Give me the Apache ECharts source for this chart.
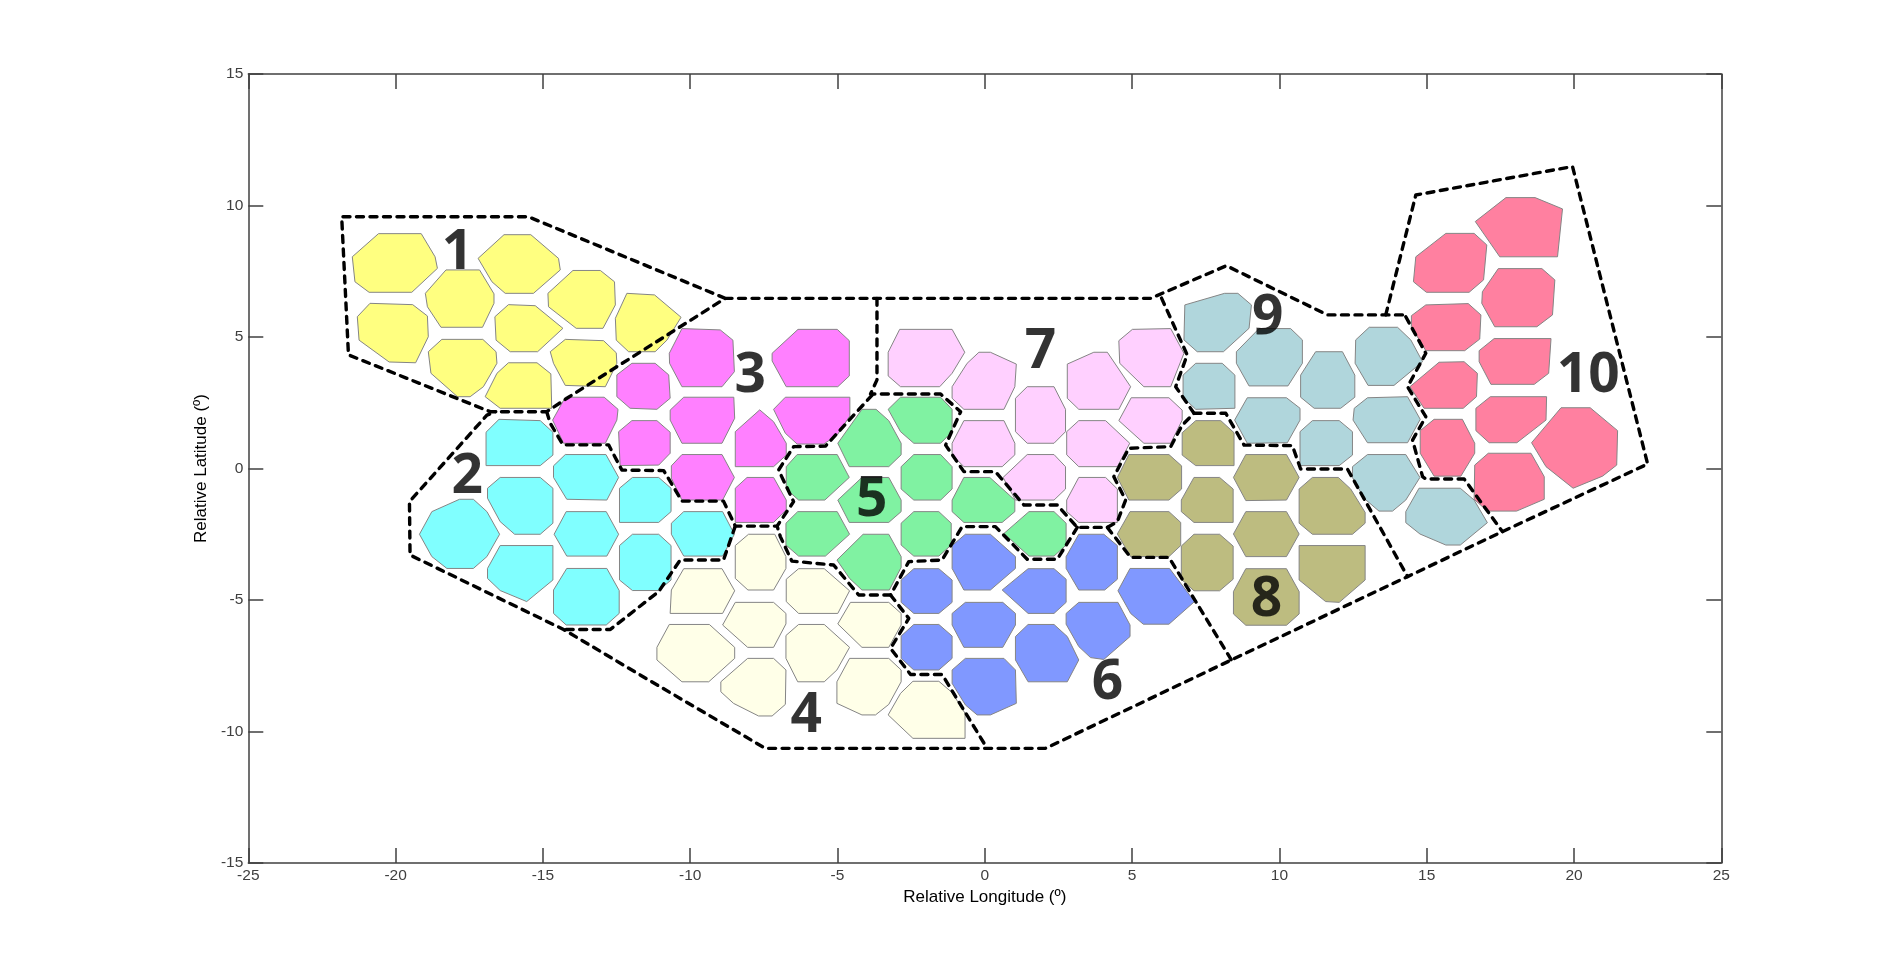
<!DOCTYPE html>
<html>
<head>
<meta charset="utf-8">
<style>html,body{margin:0;padding:0;background:#fff}#main{width:1903px;height:970px}</style>
<script src="https://cdn.jsdelivr.net/npm/echarts@6/dist/echarts.min.js"></script>
</head>
<body>
<div id="main"></div>
<script>
// cell outlines, [longitude, latitude] in degrees
var region1 = [
  [[-20.58,8.93],[-19.13,8.93],[-18.66,8.05],[-18.58,7.61],[-19.45,6.70],[-20.90,6.70],[-21.38,7.10],[-21.47,8.05]],
  [[-18.29,7.55],[-17.15,7.55],[-16.66,6.64],[-16.66,6.28],[-17.05,5.37],[-18.46,5.37],[-18.92,6.15],[-18.99,6.66]],
  [[-16.32,8.89],[-15.41,8.89],[-14.47,7.99],[-14.41,7.55],[-15.32,6.66],[-16.28,6.66],[-16.73,7.10],[-17.20,7.99]],
  [[-13.98,7.53],[-13.05,7.53],[-12.57,7.10],[-12.54,6.22],[-12.96,5.33],[-13.87,5.33],[-14.81,6.15],[-14.83,6.66]],
  [[-12.15,6.66],[-11.21,6.60],[-10.31,5.75],[-10.79,4.88],[-11.19,4.44],[-12.09,4.44],[-12.51,4.88],[-12.54,5.71]],
  [[-20.87,6.28],[-19.42,6.23],[-18.92,5.80],[-18.89,5.01],[-19.32,4.02],[-20.22,4.05],[-21.24,4.88],[-21.30,5.77]],
  [[-16.17,6.23],[-15.26,6.19],[-14.32,5.33],[-15.18,4.44],[-16.11,4.44],[-16.59,4.88],[-16.63,5.77]],
  [[-18.43,4.91],[-17.04,4.91],[-16.59,4.44],[-16.56,4.00],[-17.02,3.11],[-17.47,2.73],[-17.90,2.73],[-18.80,3.62],[-18.89,4.44]],
  [[-14.24,4.91],[-12.94,4.86],[-12.51,4.40],[-12.49,4.00],[-12.88,3.11],[-14.24,3.16],[-14.64,4.00],[-14.75,4.44]],
  [[-16.17,4.02],[-15.20,4.02],[-14.73,3.60],[-14.70,2.29],[-16.45,2.29],[-16.96,2.73],[-16.56,3.62]]
];
var region2 = [
  [[-16.49,1.87],[-15.09,1.82],[-14.66,1.38],[-14.66,0.51],[-15.09,0.11],[-16.93,0.11],[-16.93,1.38]],
  [[-14.24,0.53],[-12.86,0.53],[-12.43,-0.34],[-12.83,-1.20],[-14.19,-1.17],[-14.64,-0.34],[-14.64,0.10]],
  [[-16.45,-0.34],[-15.09,-0.34],[-14.66,-0.75],[-14.66,-2.08],[-15.09,-2.50],[-15.96,-2.50],[-16.45,-2.02],[-16.88,-1.13],[-16.88,-0.75]],
  [[-11.96,-0.34],[-11.07,-0.34],[-10.65,-0.75],[-10.65,-1.64],[-11.07,-2.05],[-12.40,-2.05],[-12.40,-0.75]],
  [[-17.83,-1.17],[-17.36,-1.17],[-16.90,-1.64],[-16.47,-2.50],[-16.90,-3.35],[-17.36,-3.80],[-18.26,-3.80],[-18.77,-3.35],[-19.19,-2.50],[-18.77,-1.64]],
  [[-14.21,-1.64],[-12.85,-1.64],[-12.43,-2.50],[-12.83,-3.33],[-14.19,-3.33],[-14.62,-2.50]],
  [[-10.22,-1.64],[-8.90,-1.64],[-8.50,-2.50],[-8.90,-3.33],[-10.22,-3.33],[-10.64,-2.50],[-10.64,-2.08]],
  [[-16.45,-2.93],[-14.66,-2.93],[-14.66,-4.24],[-15.55,-5.06],[-16.45,-4.64],[-16.88,-4.18],[-16.88,-3.80]],
  [[-11.96,-2.50],[-11.07,-2.50],[-10.65,-2.93],[-10.65,-4.24],[-11.07,-4.64],[-11.96,-4.64],[-12.40,-4.24],[-12.40,-2.93]],
  [[-14.19,-3.80],[-12.83,-3.80],[-12.41,-4.64],[-12.41,-5.51],[-12.85,-5.95],[-14.21,-5.95],[-14.64,-5.51],[-14.64,-4.62]]
];
var region3 = [
  [[-10.28,5.32],[-8.98,5.27],[-8.55,4.88],[-8.50,3.68],[-8.92,3.11],[-10.28,3.11],[-10.70,4.00],[-10.71,4.38]],
  [[-11.98,4.00],[-11.19,4.00],[-10.73,3.56],[-10.68,2.67],[-11.13,2.25],[-12.04,2.29],[-12.49,2.73],[-12.49,3.56]],
  [[-14.24,2.71],[-12.92,2.71],[-12.45,2.25],[-12.49,1.84],[-12.88,0.96],[-14.30,0.96],[-14.67,1.84]],
  [[-10.22,2.71],[-8.52,2.71],[-8.49,1.91],[-8.92,0.96],[-10.28,0.96],[-10.68,1.84],[-10.68,2.22]],
  [[-11.98,1.82],[-11.13,1.82],[-10.68,1.38],[-10.68,0.58],[-11.07,0.13],[-12.38,0.11],[-12.43,1.40]],
  [[-7.64,2.23],[-7.17,1.78],[-6.74,0.96],[-6.74,0.51],[-7.17,0.07],[-8.47,0.07],[-8.47,1.40]],
  [[-10.28,0.53],[-8.92,0.53],[-8.50,-0.34],[-8.90,-1.20],[-10.28,-1.20],[-10.64,-0.37],[-10.64,0.10]],
  [[-8.07,-0.34],[-7.17,-0.34],[-6.74,-1.20],[-6.74,-1.58],[-7.17,-2.05],[-8.47,-2.05],[-8.47,-0.75]],
  [[-6.34,5.29],[-5.01,5.29],[-4.60,4.86],[-4.60,3.52],[-4.99,3.11],[-6.74,3.11],[-7.22,4.09],[-7.22,4.38]],
  [[-6.77,2.71],[-4.58,2.71],[-4.58,2.00],[-5.01,1.27],[-5.47,0.93],[-6.37,0.93],[-6.77,1.34],[-7.17,2.25]]
];
var region4 = [
  [[-8.02,-2.50],[-7.13,-2.50],[-6.75,-3.35],[-6.75,-3.80],[-7.17,-4.62],[-8.04,-4.62],[-8.47,-4.18],[-8.47,-2.93]],
  [[-10.22,-3.81],[-8.92,-3.81],[-8.49,-4.65],[-8.90,-5.51],[-10.68,-5.51],[-10.64,-4.62]],
  [[-6.32,-3.81],[-5.45,-3.81],[-4.59,-4.65],[-4.99,-5.51],[-6.32,-5.51],[-6.74,-5.06],[-6.74,-4.21]],
  [[-8.47,-5.09],[-7.17,-5.09],[-6.75,-5.51],[-6.75,-5.91],[-7.17,-6.80],[-8.05,-6.80],[-8.90,-5.95]],
  [[-4.56,-5.09],[-3.26,-5.09],[-2.84,-5.51],[-2.84,-5.95],[-3.26,-6.80],[-4.17,-6.80],[-4.99,-5.91]],
  [[-10.71,-5.93],[-9.35,-5.93],[-8.49,-6.80],[-8.49,-7.22],[-9.37,-8.11],[-10.28,-8.11],[-11.13,-7.28],[-11.13,-6.80]],
  [[-6.32,-5.93],[-5.45,-5.93],[-4.59,-6.80],[-5.02,-7.66],[-5.45,-8.11],[-6.35,-8.11],[-6.75,-7.22],[-6.75,-6.35]],
  [[-8.05,-7.22],[-7.17,-7.22],[-6.75,-7.66],[-6.77,-8.97],[-7.22,-9.41],[-7.68,-9.41],[-8.53,-8.93],[-8.96,-8.49],[-8.96,-8.11]],
  [[-4.59,-7.22],[-3.26,-7.22],[-2.84,-7.66],[-2.84,-8.11],[-3.26,-8.97],[-3.71,-9.37],[-4.17,-9.37],[-5.02,-8.93],[-5.02,-8.11]],
  [[-2.44,-8.09],[-1.56,-8.09],[-1.11,-8.52],[-0.67,-9.31],[-0.67,-10.26],[-2.44,-10.26],[-3.28,-9.37],[-2.86,-8.55]]
];
var region5 = [
  [[-2.86,2.71],[-1.50,2.71],[-1.11,2.25],[-1.11,1.40],[-1.50,0.96],[-2.41,0.96],[-2.86,1.40],[-3.28,2.25]],
  [[-4.17,2.25],[-3.69,2.25],[-3.26,1.82],[-2.84,0.96],[-2.84,0.52],[-3.26,0.07],[-4.60,0.07],[-4.99,0.96]],
  [[-6.37,0.53],[-5.01,0.53],[-4.60,-0.34],[-5.43,-1.20],[-6.32,-1.20],[-6.74,-0.78],[-6.74,0.07]],
  [[-2.41,0.53],[-1.50,0.53],[-1.11,0.07],[-1.11,-0.78],[-1.50,-1.20],[-2.41,-1.20],[-2.84,-0.78],[-2.84,0.07]],
  [[-4.17,-0.34],[-3.26,-0.34],[-2.84,-1.20],[-2.84,-1.64],[-3.26,-2.05],[-4.60,-2.05],[-4.99,-1.20]],
  [[-0.71,-0.34],[0.17,-0.34],[1.02,-1.20],[1.02,-1.64],[0.59,-2.05],[-0.71,-2.05],[-1.11,-1.64],[-1.11,-1.20]],
  [[-6.35,-1.64],[-5.01,-1.64],[-4.59,-2.50],[-5.41,-3.33],[-6.32,-3.33],[-6.75,-2.91],[-6.75,-2.08]],
  [[-4.13,-2.50],[-3.26,-2.50],[-2.84,-3.35],[-2.84,-3.76],[-3.24,-4.62],[-4.17,-4.62],[-4.59,-4.18],[-5.02,-3.48]],
  [[-2.41,-1.64],[-1.56,-1.64],[-1.14,-2.08],[-1.14,-2.91],[-1.56,-3.33],[-2.41,-3.33],[-2.84,-2.91],[-2.84,-2.08]],
  [[1.50,-1.64],[2.35,-1.64],[2.76,-2.08],[2.76,-2.91],[2.35,-3.33],[1.50,-3.33],[0.65,-2.47]]
];
var region6 = [
  [[-0.66,-2.50],[0.19,-2.50],[1.04,-3.35],[1.04,-3.80],[0.19,-4.62],[-0.71,-4.62],[-1.11,-3.80],[-1.11,-2.93]],
  [[-2.41,-3.81],[-1.56,-3.81],[-1.11,-4.24],[-1.11,-5.09],[-1.56,-5.51],[-2.41,-5.51],[-2.84,-5.09],[-2.84,-4.24]],
  [[1.47,-3.81],[2.35,-3.81],[2.76,-4.21],[2.76,-5.09],[2.35,-5.51],[1.47,-5.51],[0.59,-4.62]],
  [[-0.66,-5.09],[0.61,-5.09],[1.04,-5.51],[1.04,-5.95],[0.61,-6.80],[-0.71,-6.80],[-1.11,-5.95],[-1.11,-5.51]],
  [[-2.41,-5.93],[-1.56,-5.93],[-1.11,-6.37],[-1.11,-7.22],[-1.56,-7.66],[-2.41,-7.66],[-2.84,-7.22],[-2.84,-6.37]],
  [[1.47,-5.93],[2.35,-5.93],[2.80,-6.39],[3.19,-7.28],[2.80,-8.11],[1.47,-8.11],[1.04,-7.28],[1.04,-6.39]],
  [[-0.66,-7.22],[0.65,-7.22],[1.04,-7.66],[1.07,-8.93],[0.19,-9.37],[-0.26,-9.37],[-0.66,-8.99],[-1.11,-8.17],[-1.11,-7.66]],
  [[3.19,-2.50],[4.04,-2.50],[4.50,-2.93],[4.50,-4.21],[4.07,-4.62],[3.19,-4.62],[2.76,-3.80],[2.76,-3.35]],
  [[4.93,-3.80],[6.27,-3.80],[7.12,-5.06],[6.25,-5.92],[5.38,-5.92],[4.95,-5.51],[4.52,-4.65]],
  [[3.19,-5.09],[4.52,-5.09],[4.93,-5.95],[4.93,-6.39],[4.04,-7.26],[3.59,-7.19],[3.19,-6.77],[2.76,-5.92],[2.76,-5.51]]
];
var region7 = [
  [[-2.89,5.29],[-1.11,5.29],[-0.68,4.42],[-1.11,3.62],[-1.53,3.11],[-2.86,3.11],[-3.28,3.52],[-3.28,4.42]],
  [[-0.20,4.42],[0.19,4.42],[1.07,3.97],[1.02,3.11],[0.65,2.25],[-0.71,2.25],[-1.11,2.67],[-1.11,3.11],[-0.60,4.00]],
  [[2.80,3.97],[3.70,4.42],[4.16,4.42],[4.95,3.11],[4.55,2.25],[3.19,2.25],[2.80,2.67]],
  [[1.44,3.11],[2.35,3.11],[2.74,2.25],[2.74,1.40],[2.35,0.96],[1.44,0.96],[1.04,1.40],[1.04,2.67]],
  [[5.01,5.29],[6.31,5.32],[6.76,4.38],[6.31,3.11],[5.40,3.11],[4.58,4.00],[4.55,4.86]],
  [[4.97,2.69],[6.25,2.69],[6.70,2.22],[6.70,1.84],[6.31,0.96],[5.40,0.96],[4.55,1.82]],
  [[-0.71,1.82],[0.65,1.82],[1.02,0.96],[1.02,0.52],[0.59,0.07],[-0.71,0.07],[-1.11,0.52],[-1.11,0.96]],
  [[3.19,1.82],[4.10,1.82],[4.92,0.96],[4.50,0.07],[3.19,0.07],[2.78,0.52],[2.78,1.40]],
  [[1.44,0.53],[2.35,0.53],[2.74,0.07],[2.74,-0.78],[2.35,-1.20],[1.04,-1.20],[0.62,-0.34]],
  [[3.19,-0.34],[4.10,-0.34],[4.50,-0.78],[4.50,-2.05],[3.19,-2.05],[2.78,-1.64],[2.78,-1.20]]
];
var region8 = [
  [[7.16,1.82],[8.01,1.82],[8.46,1.36],[8.46,0.11],[7.16,0.11],[6.70,0.51],[6.70,1.36]],
  [[4.89,0.53],[6.25,0.53],[6.68,0.10],[6.68,-0.78],[6.25,-1.20],[4.89,-1.20],[4.50,-0.34]],
  [[8.86,0.53],[10.24,0.53],[10.67,-0.34],[10.24,-1.20],[8.86,-1.22],[8.44,-0.34]],
  [[7.10,-0.34],[7.97,-0.34],[8.43,-0.78],[8.43,-2.05],[7.10,-2.05],[6.67,-1.64],[6.67,-1.20]],
  [[11.12,-0.34],[12.00,-0.34],[12.42,-0.78],[12.91,-1.67],[12.91,-2.08],[12.48,-2.50],[11.12,-2.50],[10.67,-2.08],[10.67,-0.78]],
  [[4.93,-1.64],[6.25,-1.64],[6.65,-2.05],[6.65,-2.93],[6.25,-3.35],[4.95,-3.35],[4.50,-2.49]],
  [[8.86,-1.64],[10.24,-1.64],[10.67,-2.49],[10.24,-3.35],[8.86,-3.35],[8.44,-2.49]],
  [[7.10,-2.50],[7.97,-2.50],[8.43,-2.95],[8.43,-4.21],[7.97,-4.65],[7.10,-4.65],[6.67,-4.21],[6.67,-2.95]],
  [[10.67,-2.93],[12.91,-2.93],[12.91,-4.24],[12.03,-5.09],[11.57,-5.06],[10.67,-4.24]],
  [[8.86,-3.81],[10.24,-3.81],[10.67,-4.68],[10.67,-5.53],[10.24,-5.96],[8.86,-5.96],[8.44,-5.53],[8.44,-4.68]]
];
var region9 = [
  [[6.79,6.22],[8.14,6.66],[8.59,6.66],[9.05,6.22],[8.97,5.33],[8.10,4.44],[7.21,4.44],[6.76,4.89]],
  [[9.31,5.32],[10.38,5.32],[10.78,4.89],[10.78,4.00],[10.29,3.14],[8.97,3.14],[8.54,4.00],[8.54,4.44]],
  [[7.16,4.00],[8.06,4.00],[8.49,3.55],[8.49,2.29],[7.16,2.25],[6.73,2.71],[6.73,3.55]],
  [[11.23,4.44],[12.14,4.44],[12.56,3.55],[12.56,2.71],[12.08,2.29],[11.18,2.29],[10.72,2.71],[10.72,3.55]],
  [[13.05,5.37],[14.01,5.37],[14.46,4.89],[14.86,4.06],[13.89,3.16],[13.01,3.16],[12.57,4.00],[12.59,4.89]],
  [[8.91,2.69],[10.24,2.69],[10.70,2.29],[10.70,1.84],[10.27,0.98],[8.91,0.96],[8.48,1.84]],
  [[12.99,2.69],[14.35,2.73],[14.78,1.87],[14.35,0.98],[12.99,0.98],[12.50,1.84],[12.54,2.29]],
  [[11.12,1.82],[12.03,1.82],[12.48,1.40],[12.48,0.51],[12.03,0.11],[10.70,0.11],[10.70,1.40]],
  [[12.99,0.53],[14.29,0.53],[14.77,-0.34],[14.29,-1.20],[13.84,-1.62],[13.38,-1.62],[12.88,-1.14],[12.48,-0.34],[12.48,0.07]],
  [[14.74,-0.75],[16.14,-0.75],[16.61,-1.20],[17.06,-2.06],[16.14,-2.91],[15.65,-2.91],[14.77,-2.49],[14.29,-2.06],[14.29,-1.64]]
];
var region10 = [
  [[17.69,10.30],[18.68,10.30],[19.61,9.87],[19.44,8.05],[17.48,8.05],[16.65,9.39]],
  [[15.65,8.94],[16.61,8.94],[17.04,8.50],[16.93,7.17],[16.44,6.70],[14.99,6.70],[14.55,7.10],[14.63,8.05]],
  [[17.43,7.60],[18.91,7.60],[19.35,7.17],[19.27,5.84],[18.74,5.39],[17.31,5.39],[16.87,6.28],[16.89,6.72]],
  [[14.97,6.22],[16.41,6.27],[16.84,5.84],[16.80,4.92],[16.29,4.48],[14.97,4.48],[14.48,5.39],[14.48,5.81]],
  [[17.29,4.94],[19.22,4.94],[19.14,3.62],[18.65,3.20],[17.18,3.20],[16.78,4.06],[16.78,4.48]],
  [[15.42,4.04],[16.27,4.06],[16.72,3.62],[16.69,2.73],[16.24,2.29],[14.91,2.29],[14.43,3.11]],
  [[17.16,2.73],[19.07,2.73],[19.05,1.84],[18.06,0.98],[17.12,0.98],[16.67,1.44],[16.67,2.29]],
  [[19.56,2.31],[20.55,2.31],[21.48,1.44],[21.45,0.13],[20.97,-0.29],[19.97,-0.75],[19.05,0.07],[18.56,0.98]],
  [[15.25,1.87],[16.21,1.87],[16.63,0.96],[16.63,0.58],[16.16,-0.29],[15.25,-0.29],[14.78,0.58],[14.78,1.44]],
  [[17.09,0.58],[18.54,0.58],[18.99,-0.31],[18.99,-1.17],[18.05,-1.62],[17.06,-1.62],[16.61,-1.17],[16.63,0.13]]
];
var regions = [region1, region2, region3, region4, region5, region6, region7, region8, region9, region10];
var regionColors = ['#ffff80', '#80ffff', '#ff80ff', '#ffffe8', '#80f2a2', '#8098ff', '#ffd0ff', '#bdbc80', '#b0d6dc', '#ff80a0'];

// dashed boundaries between the regions
var boundaries = [
  [[-8.81,6.47],[-15.49,9.57],[-21.83,9.57],[-21.60,4.32],[-16.79,2.16],[-14.87,2.16],[-14.13,2.71],[-8.81,6.47],[5.63,6.47],[8.20,7.71],[11.63,5.84],[14.29,5.84]],
  [[13.61,5.84],[14.63,10.40],[19.95,11.48],[22.50,0.17],[17.57,-2.40],[14.35,-4.11],[8.37,-7.28],[2.06,-10.64],[-7.45,-10.64],[-11.70,-7.85],[-14.30,-6.12],[-19.51,-3.29],[-19.53,-1.26],[-16.90,2.03],[-16.60,2.16]],
  [[-14.87,2.16],[-14.75,1.72],[-14.32,0.90],[-12.77,0.90],[-12.32,-0.06],[-10.90,-0.08],[-10.28,-1.24],[-8.87,-1.24],[-8.47,-2.19],[-7.05,-2.19],[-6.49,-1.26],[-7.00,-0.06],[-6.49,0.83],[-5.41,0.85],[-3.77,2.86]],
  [[-8.47,-2.19],[-8.87,-3.48],[-10.34,-3.48],[-11.07,-4.68],[-12.71,-6.12],[-14.30,-6.12]],
  [[-3.66,6.47],[-3.66,3.37],[-3.88,2.83],[-1.50,2.83],[-0.82,2.16],[-1.33,0.89],[-0.71,-0.12],[0.36,-0.12],[1.33,-1.39],[2.46,-1.39],[3.14,-2.24],[4.16,-2.24],[4.50,-2.02],[4.78,-1.20],[4.38,-0.31],[4.89,0.77],[6.31,0.83],[6.70,1.65],[7.10,2.10],[6.48,3.11],[6.87,4.32],[5.97,6.55]],
  [[7.10,2.10],[8.18,2.10],[8.80,0.89],[10.44,0.87],[10.72,-0.02],[12.31,-0.02],[14.35,-4.11]],
  [[4.16,-2.24],[4.95,-3.38],[6.25,-3.38],[8.37,-7.28]],
  [[3.14,-2.24],[2.46,-3.45],[1.44,-3.45],[0.36,-2.21],[-0.77,-2.21],[-1.45,-3.48],[-2.58,-3.54],[-3.20,-4.81],[-4.28,-4.81],[-5.13,-3.67],[-6.55,-3.52],[-6.94,-2.59],[-7.05,-2.19]],
  [[-3.20,-4.81],[-2.58,-5.70],[-3.20,-6.84],[-2.52,-7.83],[-1.45,-7.83],[0.08,-10.64]],
  [[14.29,5.77],[14.97,4.38],[14.35,3.11],[14.97,1.97],[14.52,1.08],[14.86,-0.31],[14.97,-0.40],[16.27,-0.40],[17.57,-2.40]]
];

var regionNumbers = ['1', '2', '3', '4', '5', '6', '7', '8', '9', '10'];
var numberPositions = [[-17.9,8.2],[-17.57,-0.32],[-7.96,3.5],[-6.06,-9.41],[-3.84,-1.2],[4.16,-8.16],[1.89,4.43],[9.56,-5.03],[9.6,5.72],[20.48,3.5]];

var xTicks = [-25, 25, 5];
var yTicks = [-15, 15, 5];

var series = [];
regions.forEach(function (cells, r) {
  series.push({
    type: 'custom',
    coordinateSystem: 'cartesian2d',
    clip: false,
    z: 2,
    data: cells.map(function (c) { return c[0]; }),
    renderItem: function (params, api) {
      var pts = cells[params.dataIndex].map(function (p) { return api.coord(p); });
      return {
        type: 'polygon',
        shape: { points: pts },
        style: { fill: regionColors[r], stroke: '#858585', lineWidth: 1 }
      };
    }
  });
});
boundaries.forEach(function (b) {
  series.push({
    type: 'line',
    data: b,
    z: 3,
    symbol: 'none',
    silent: true,
    lineStyle: { color: '#000', width: 3.4, type: [7, 6.5], cap: 'round', join: 'round' }
  });
});
series.push({
  type: 'scatter',
  z: 4,
  symbolSize: 0,
  silent: true,
  data: numberPositions.map(function (p, i) { return { value: p, name: regionNumbers[i] }; }),
  label: {
    show: true,
    position: 'inside',
    formatter: '{b}',
    color: '#000',
    fontFamily: 'Open Sans',
    fontWeight: 'bold',
    fontSize: 55
  }
});

function mainAxis(pos, range, name, gap) {
  return {
    type: 'value',
    position: pos,
    min: range[0],
    max: range[1],
    interval: range[2],
    name: name,
    nameLocation: 'middle',
    nameGap: gap,
    nameTextStyle: { color: '#000', fontFamily: 'Liberation Sans', fontSize: 17 },
    splitLine: { show: false },
    axisLine: { onZero: false, lineStyle: { color: '#404040', width: 1.5 } },
    axisTick: { inside: true, length: 15, lineStyle: { color: '#404040', width: 1.5 } },
    axisLabel: { color: '#404040', fontFamily: 'Liberation Sans', fontSize: 15.5, margin: 5 }
  };
}
function mirrorAxis(pos, range) {
  return {
    type: 'value',
    position: pos,
    min: range[0],
    max: range[1],
    interval: range[2],
    splitLine: { show: false },
    axisLine: { onZero: false, lineStyle: { color: '#404040', width: 1.5 } },
    axisTick: { inside: true, length: 15, lineStyle: { color: '#404040', width: 1.5 } },
    axisLabel: { show: false }
  };
}

var myChart = echarts.init(document.getElementById('main'));
myChart.setOption({
  animation: false,
  backgroundColor: '#fff',
  grid: { left: 248.3, right: 181.7, top: 74, bottom: 107 },
  xAxis: [mainAxis('bottom', xTicks, 'Relative Longitude (º)', 25), mirrorAxis('top', xTicks)],
  yAxis: [mainAxis('left', yTicks, 'Relative Latitude (º)', 37), mirrorAxis('right', yTicks)],
  series: series
});
</script>
</body>
</html>
